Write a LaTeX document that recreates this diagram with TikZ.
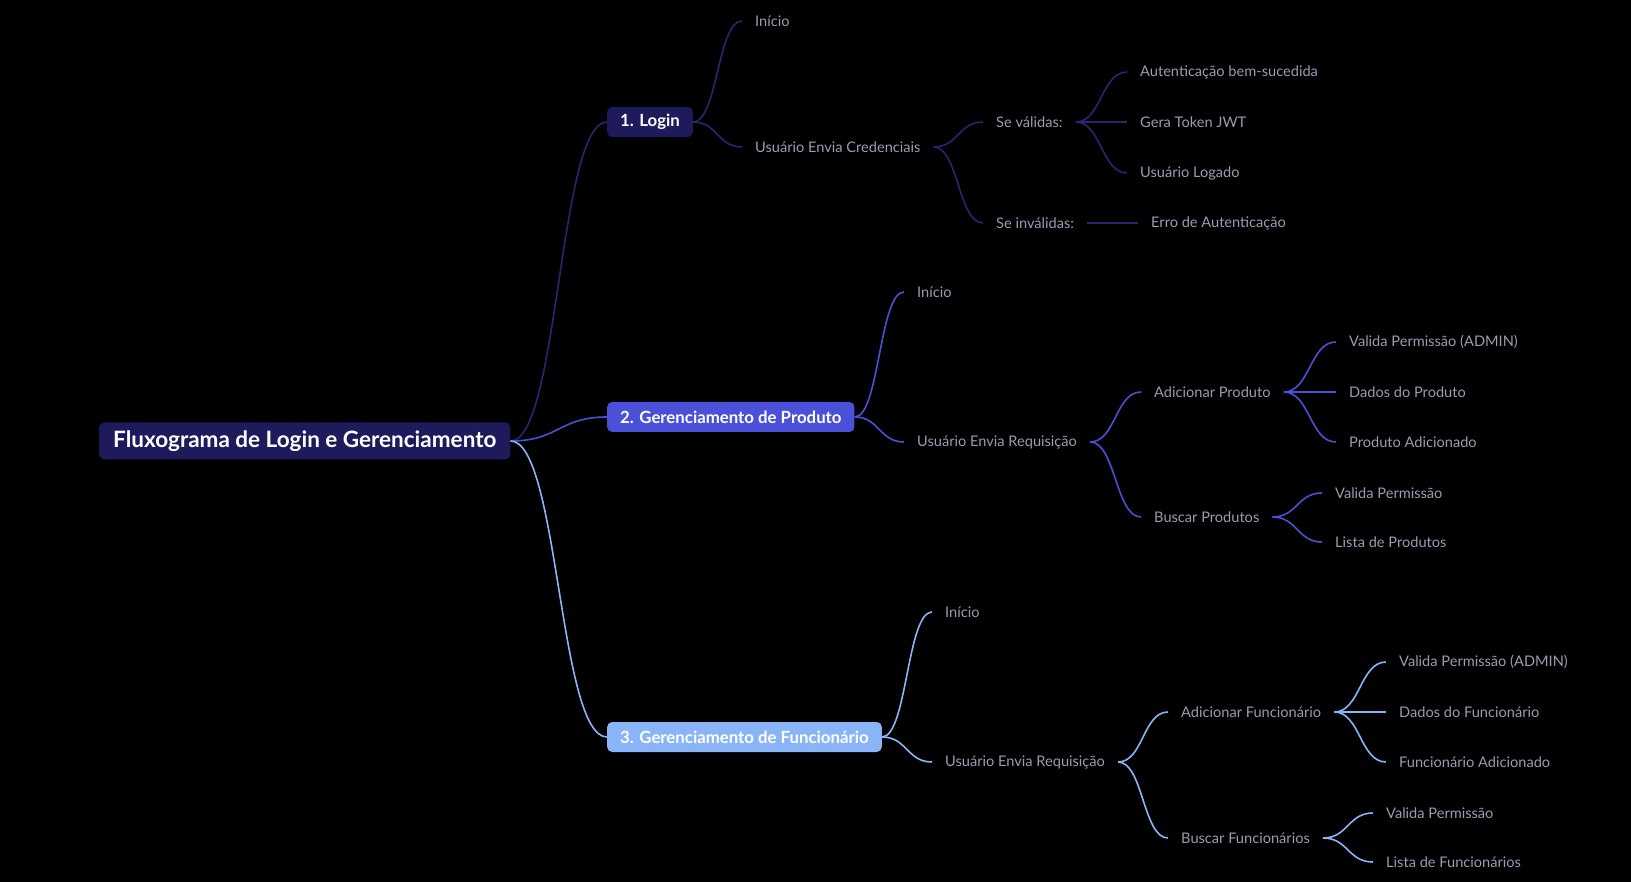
\documentclass[tikz,border=0pt]{standalone}
\usepackage{fontspec}
\setmainfont{Lato}
\usetikzlibrary{positioning,calc}

\definecolor{navy}{RGB}{30,26,92}
\definecolor{navyline}{RGB}{40,38,112}
\definecolor{violet}{RGB}{74,80,216}
\definecolor{sky}{RGB}{138,180,248}
\definecolor{leafgray}{RGB}{155,155,178}

\begin{document}
\begin{tikzpicture}[x=1pt,y=-1pt,
  root/.style={fill=navy,text=white,rounded corners=5pt,anchor=west,
    font=\bfseries\fontsize{22.5}{26}\selectfont,minimum height=37pt,inner xsep=14pt},
  box/.style={text=white,rounded corners=5pt,anchor=west,
    font=\bfseries\fontsize{16.8}{19}\selectfont,minimum height=30pt,inner xsep=13pt},
  leaf/.style={text=leafgray,anchor=west,font=\fontsize{14.6}{17}\selectfont,
    inner xsep=13pt,inner ysep=2pt},
  br/.style={line width=1.6pt,to path={let \p1=(\tikztostart),\p2=(\tikztotarget) in
    .. controls (\x1/2+\x2/2,\y1) and (\x1/2+\x2/2,\y2) .. (\tikztotarget)}}]
\useasboundingbox (0,0) rectangle (1631,882);
\fill[black] (0,0) rectangle (1631,882);

% root and main branches
\node[root] (root) at (99,441) {Fluxograma de Login e Gerenciamento};
\node[box,fill=navy] (login) at (607,122) {1. Login};
\node[box,fill=violet] (prod) at (607,417) {2. Gerenciamento de Produto};
\node[box,fill=sky] (func) at (607,737) {3. Gerenciamento de Funcionário};

% 1. Login
\node[leaf] (iniA) at (742,21) {Início};
\node[leaf] (credA) at (742,147) {Usuário Envia Credenciais};
\node[leaf] (valA) at (983,122) {Se válidas:};
\node[leaf] (invA) at (983,223) {Se inválidas:};
\node[leaf] (autA) at (1127,72) {Autenticação bem-sucedida};
\node[leaf] (tokA) at (1127,122) {Gera Token JWT};
\node[leaf] (logA) at (1127,173) {Usuário Logado};
\node[leaf] (erroA) at (1138,223) {Erro de Autenticação};

% 2. Produto
\node[leaf] (iniB) at (904,292) {Início};
\node[leaf] (reqB) at (904,442) {Usuário Envia Requisição};
\node[leaf] (addB) at (1141,392) {Adicionar Produto};
\node[leaf] (busB) at (1141,517) {Buscar Produtos};
\node[leaf] (valB) at (1336,342) {Valida Permissão (ADMIN)};
\node[leaf] (dadB) at (1336,392) {Dados do Produto};
\node[leaf] (newB) at (1336,442) {Produto Adicionado};
\node[leaf] (perB) at (1322,493) {Valida Permissão};
\node[leaf] (lisB) at (1322,542) {Lista de Produtos};

% 3. Funcionario
\node[leaf] (iniC) at (932,612) {Início};
\node[leaf] (reqC) at (932,762) {Usuário Envia Requisição};
\node[leaf] (addC) at (1168,712) {Adicionar Funcionário};
\node[leaf] (busC) at (1168,838) {Buscar Funcionários};
\node[leaf] (valC) at (1386,662) {Valida Permissão (ADMIN)};
\node[leaf] (dadC) at (1386,712) {Dados do Funcionário};
\node[leaf] (newC) at (1386,762) {Funcionário Adicionado};
\node[leaf] (perC) at (1373,813) {Valida Permissão};
\node[leaf] (lisC) at (1373,862) {Lista de Funcionários};

% connectors
\draw[br,navyline] (root.east) to (login.west);
\draw[br,violet] (root.east) to (prod.west);
\draw[br,sky] (root.east) to (func.west);

\draw[br,navyline] (login.east) to (iniA.west);
\draw[br,navyline] (login.east) to (credA.west);
\draw[br,navyline] (credA.east) to (valA.west);
\draw[br,navyline] (credA.east) to (invA.west);
\draw[br,navyline] (valA.east) to (autA.west);
\draw[br,navyline] (valA.east) to (tokA.west);
\draw[br,navyline] (valA.east) to (logA.west);
\draw[br,navyline] (invA.east) to (erroA.west);

\draw[br,violet] (prod.east) to (iniB.west);
\draw[br,violet] (prod.east) to (reqB.west);
\draw[br,violet] (reqB.east) to (addB.west);
\draw[br,violet] (reqB.east) to (busB.west);
\draw[br,violet] (addB.east) to (valB.west);
\draw[br,violet] (addB.east) to (dadB.west);
\draw[br,violet] (addB.east) to (newB.west);
\draw[br,violet] (busB.east) to (perB.west);
\draw[br,violet] (busB.east) to (lisB.west);

\draw[br,sky] (func.east) to (iniC.west);
\draw[br,sky] (func.east) to (reqC.west);
\draw[br,sky] (reqC.east) to (addC.west);
\draw[br,sky] (reqC.east) to (busC.west);
\draw[br,sky] (addC.east) to (valC.west);
\draw[br,sky] (addC.east) to (dadC.west);
\draw[br,sky] (addC.east) to (newC.west);
\draw[br,sky] (busC.east) to (perC.west);
\draw[br,sky] (busC.east) to (lisC.west);
\end{tikzpicture}
\end{document}
